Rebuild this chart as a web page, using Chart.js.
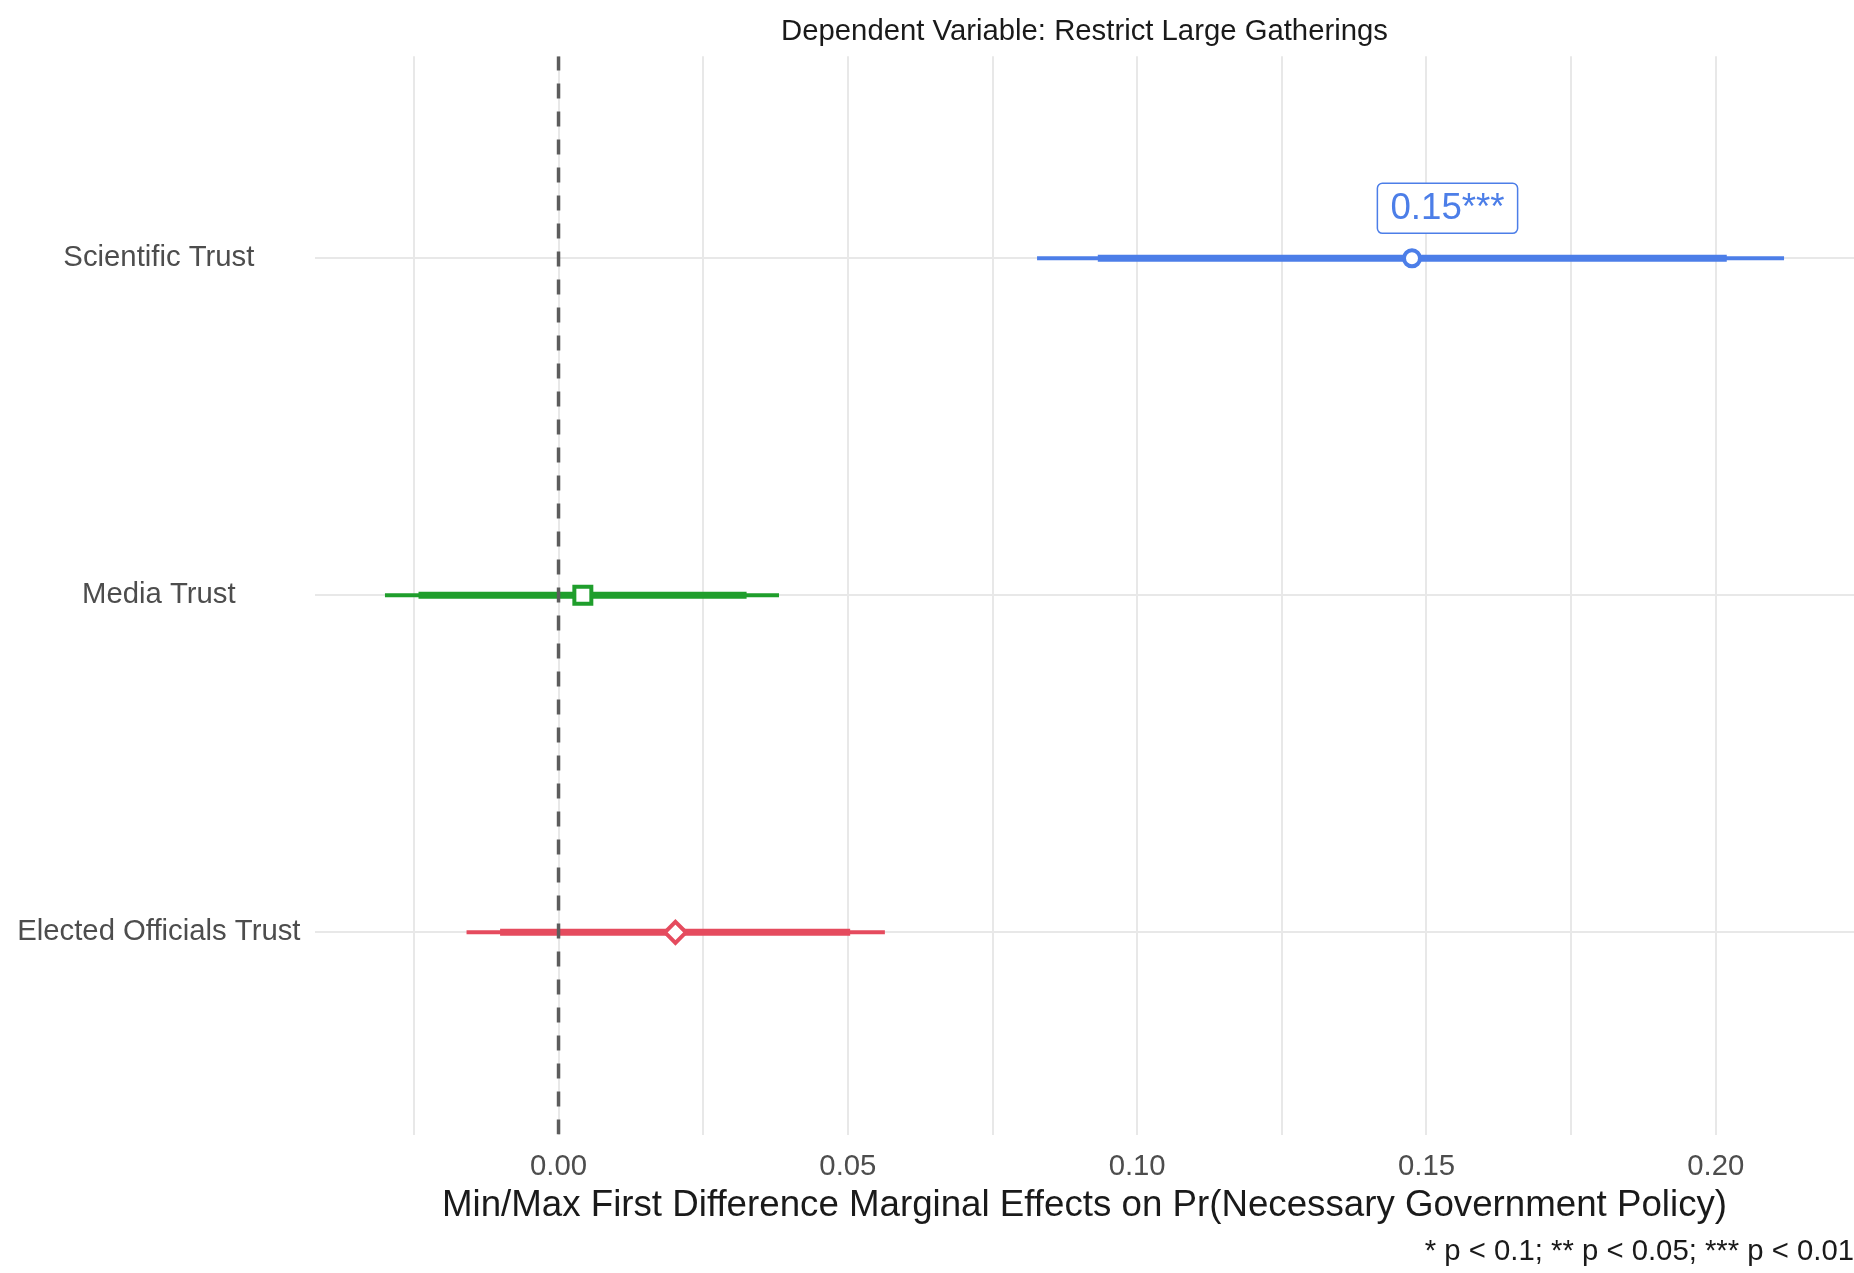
<!DOCTYPE html>
<html>
<head>
<meta charset="utf-8">
<script src="https://cdn.jsdelivr.net/npm/chart.js@4.4.1/dist/chart.umd.min.js"></script>
<style>
  html, body { margin: 0; padding: 0; background: #ffffff; }
  #wrap { width: 1854px; height: 1273px; }
</style>
</head>
<body>
<div id="wrap"><canvas id="chart" width="1854" height="1273"></canvas></div>
<script>
// Predictors, bottom to top on the category axis
const categories = ['Elected Officials Trust', 'Media Trust', 'Scientific Trust'];
const yPositions = [1, 2, 3];

// Min/max first-difference marginal effects and their intervals
const estimates = [0.0202, 0.0042, 0.1475];
const innerLow  = [-0.0101, -0.0242, 0.0932];
const innerHigh = [0.0504, 0.0325, 0.2019];
const outerLow  = [-0.0159, -0.0300, 0.0827];
const outerHigh = [0.0564, 0.0381, 0.2118];
const stars     = ['', '', '***'];

// Axis ticks: grid every 0.025, labels on every 0.05
const xGridValues = [-0.025, 0, 0.025, 0.05, 0.075, 0.10, 0.125, 0.15, 0.175, 0.20];
const xTickLabels = ['', '0.00', '', '0.05', '', '0.10', '', '0.15', '', '0.20'];

const colors  = ['#e54b5e', '#1f9e2c', '#4c7ee8'];
const shapes  = ['rectRot', 'rect', 'circle'];
const radii   = [10.5, 12, 8];

const FONT = "'Liberation Sans', Arial, Helvetica, sans-serif";
Chart.defaults.font.family = FONT;

const lo = Math.min(...outerLow), hi = Math.max(...outerHigh);
const pad = (hi - lo) * 0.05;

const datasets = [];
categories.forEach((c, i) => {
  datasets.push({
    label: c + ' outer',
    data: [{ x: outerLow[i], y: yPositions[i] }, { x: outerHigh[i], y: yPositions[i] }],
    showLine: true, borderColor: colors[i], borderWidth: 4, pointRadius: 0, order: 3
  });
  datasets.push({
    label: c + ' inner',
    data: [{ x: innerLow[i], y: yPositions[i] }, { x: innerHigh[i], y: yPositions[i] }],
    showLine: true, borderColor: colors[i], borderWidth: 7, pointRadius: 0, order: 2
  });
});
datasets.push({
  label: 'zero',
  data: [{ x: 0, y: 0.4 }, { x: 0, y: 3.6 }],
  showLine: true, borderColor: '#5c5c5c', borderWidth: 3.5, borderDash: [15, 13],
  pointRadius: 0, order: 1
});
categories.forEach((c, i) => {
  datasets.push({
    label: c,
    data: [{ x: estimates[i], y: yPositions[i] }],
    showLine: false, pointStyle: shapes[i], pointRadius: radii[i],
    pointBorderWidth: 4, pointBorderColor: colors[i], pointBackgroundColor: '#ffffff',
    order: 0
  });
});

// Boxed value label next to significant estimates
const valueLabels = {
  id: 'valueLabels',
  afterDatasetsDraw(chart) {
    const { ctx, scales: { x, y } } = chart;
    ctx.save();
    ctx.font = '36.7px ' + FONT;
    ctx.textAlign = 'center';
    ctx.textBaseline = 'middle';
    estimates.forEach((v, i) => {
      if (!stars[i]) return;
      const text = v.toFixed(2) + stars[i];
      const cx = x.getPixelForValue(v) + 35.5;
      const cy = y.getPixelForValue(yPositions[i]) - 50;
      const w = ctx.measureText(text).width + 26;
      const h = 50;
      ctx.beginPath();
      ctx.roundRect(cx - w / 2, cy - h / 2, w, h, 5);
      ctx.fillStyle = '#ffffff';
      ctx.fill();
      ctx.lineWidth = 1.5;
      ctx.strokeStyle = colors[i];
      ctx.stroke();
      ctx.fillStyle = colors[i];
      ctx.fillText(text, cx, cy + 1);
    });
    ctx.restore();
  }
};

new Chart(document.getElementById('chart'), {
  type: 'scatter',
  data: { datasets },
  plugins: [valueLabels],
  options: {
    responsive: false,
    animation: false,
    devicePixelRatio: 1,
    layout: { padding: 0, autoPadding: false },
    plugins: {
      legend: { display: false },
      tooltip: { enabled: false },
      title: {
        display: true,
        text: 'Dependent Variable: Restrict Large Gatherings',
        fullSize: false,
        color: '#1a1a1a',
        font: { size: 29.3, weight: 'normal', family: FONT },
        padding: { top: 14, bottom: 7 }
      },
      subtitle: {
        display: true,
        text: '* p < 0.1; ** p < 0.05; *** p < 0.01',
        position: 'bottom',
        align: 'end',
        fullSize: true,
        color: '#1a1a1a',
        font: { size: 29.3, weight: 'normal', family: FONT },
        padding: { top: 5.6, bottom: 4 }
      }
    },
    scales: {
      x: {
        type: 'linear',
        min: lo - pad,
        max: hi + pad,
        afterBuildTicks(scale) { scale.ticks = xGridValues.map(v => ({ value: v })); },
        ticks: {
          autoSkip: false, maxRotation: 0, padding: 15,
          color: '#4d4d4d', font: { size: 29.3, family: FONT },
          callback: (v, idx) => xTickLabels[idx]
        },
        grid: { color: '#e8e8e8', lineWidth: 2, drawTicks: false },
        border: { display: false },
        title: {
          display: true,
          text: 'Min/Max First Difference Marginal Effects on Pr(Necessary Government Policy)',
          color: '#1a1a1a',
          font: { size: 36.7, family: FONT },
          padding: { top: -15.5, bottom: 0 }
        }
      },
      y: {
        type: 'linear',
        min: 0.4,
        max: 3.6,
        afterBuildTicks(scale) { scale.ticks = yPositions.map(v => ({ value: v })); },
        afterFit(scale) { scale.width = 315; },
        ticks: {
          crossAlign: 'center', padding: 14.5,
          color: '#4d4d4d', font: { size: 29.3, family: FONT },
          callback: (v) => categories[yPositions.indexOf(v)]
        },
        grid: { color: '#e8e8e8', lineWidth: 2, drawTicks: false },
        border: { display: false }
      }
    }
  }
});
</script>
</body>
</html>
